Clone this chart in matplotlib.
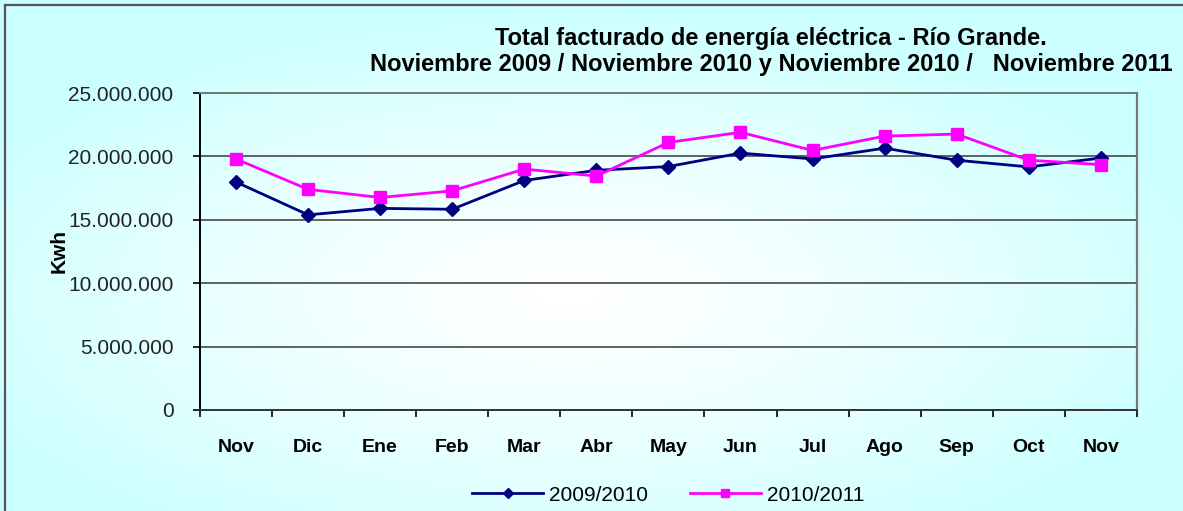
import numpy as np
import matplotlib.pyplot as plt
from matplotlib.ticker import FuncFormatter, FixedLocator
from matplotlib.lines import Line2D

plt.rcParams['font.family'] = ['Liberation Sans', 'DejaVu Sans']

# data (Kwh)
meses = ['Nov', 'Dic', 'Ene', 'Feb', 'Mar', 'Abr', 'May', 'Jun', 'Jul', 'Ago', 'Sep', 'Oct', 'Nov']
serie_0910 = [17980000, 15390000, 15900000, 15830000, 18100000, 18900000, 19200000,
              20260000, 19800000, 20650000, 19700000, 19170000, 19870000]
serie_1011 = [19800000, 17400000, 16760000, 17280000, 19000000, 18450000, 21100000,
              21900000, 20470000, 21600000, 21760000, 19700000, 19350000]
y_ticks = [0, 5000000, 10000000, 15000000, 20000000, 25000000]

fig = plt.figure(figsize=(11.83, 5.11), dpi=100)

# background gradient (cyan edges, white centre)
bg = fig.add_axes([0, 0, 1, 1], zorder=-10)
yy, xx = np.mgrid[0:1:256j, 0:1:512j]
d = np.sqrt(((xx - 0.48) / 0.75) ** 2 + ((yy - 0.42) / 0.75) ** 2)
t = np.clip(d / 0.75, 0, 1) ** 1.3
edge = np.array([0.80, 1.0, 1.0])
centre = np.array([1.0, 1.0, 1.0])
img = centre[None, None, :] * (1 - t[..., None]) + edge[None, None, :] * t[..., None]
bg.imshow(img, extent=[0, 1, 0, 1], aspect='auto', origin='lower')
bg.set_xlim(0, 1)
bg.set_ylim(0, 1)
bg.axis('off')
# figure border (left + top visible)
bg.add_line(Line2D([0.004, 0.004], [0, 0.991], color='#555555', lw=1.6))
bg.add_line(Line2D([0.004, 1], [0.991, 0.991], color='#555555', lw=1.6))

ax = fig.add_axes([0.169, 0.1977, 0.792, 0.6203])
ax.patch.set_alpha(0)

x = np.arange(len(meses))
ax.plot(x, serie_0910, color='#000080', lw=2, marker='D', ms=7, label='2009/2010', zorder=3)
ax.plot(x, serie_1011, color='#FF00FF', lw=2, marker='s', ms=9, label='2010/2011', zorder=4)

ax.set_xlim(-0.5, len(meses) - 0.5)
ax.set_ylim(0, 25000000)
ax.set_yticks(y_ticks)
ax.yaxis.set_major_formatter(FuncFormatter(lambda v, p: f'{int(v):,}'.replace(',', '.')))
ax.grid(axis='y', color='#555555', lw=1.3)
ax.set_axisbelow(True)

ax.set_xticks(x)
ax.set_xticklabels(meses, fontsize=14, fontweight='bold')
ax.tick_params(axis='x', which='major', length=0, pad=21)
ax.xaxis.set_minor_locator(FixedLocator(np.arange(-0.5, len(meses), 1)))
ax.tick_params(axis='x', which='minor', length=5, width=1.2, direction='out', color='black')
ax.tick_params(axis='y', labelsize=15, length=5, width=1.2, color='black', labelcolor='#222222', pad=14)

ax.spines['left'].set_color('black')
ax.spines['left'].set_linewidth(1.4)
ax.spines['bottom'].set_color('#333333')
ax.spines['bottom'].set_linewidth(1.4)
ax.spines['top'].set_color('#777777')
ax.spines['top'].set_linewidth(1.4)
ax.spines['right'].set_color('#777777')
ax.spines['right'].set_linewidth(1.6)

ax.set_ylabel('Kwh', fontsize=15, fontweight='bold', labelpad=0)

fig.text(0.652, 0.925, 'Total facturado de energía eléctrica - Río Grande.',
         ha='center', va='center', fontsize=17, fontweight='bold')
fig.text(0.652, 0.873, 'Noviembre 2009 / Noviembre 2010 y Noviembre 2010 /   Noviembre 2011',
         ha='center', va='center', fontsize=17, fontweight='bold')

ax.legend(loc='upper center', bbox_to_anchor=(0.5, -0.18), ncol=2, frameon=False,
          fontsize=15, handlelength=3.4, handletextpad=0.3, columnspacing=2.0, markerscale=0.7)

fig.savefig('out.png', dpi=100)
